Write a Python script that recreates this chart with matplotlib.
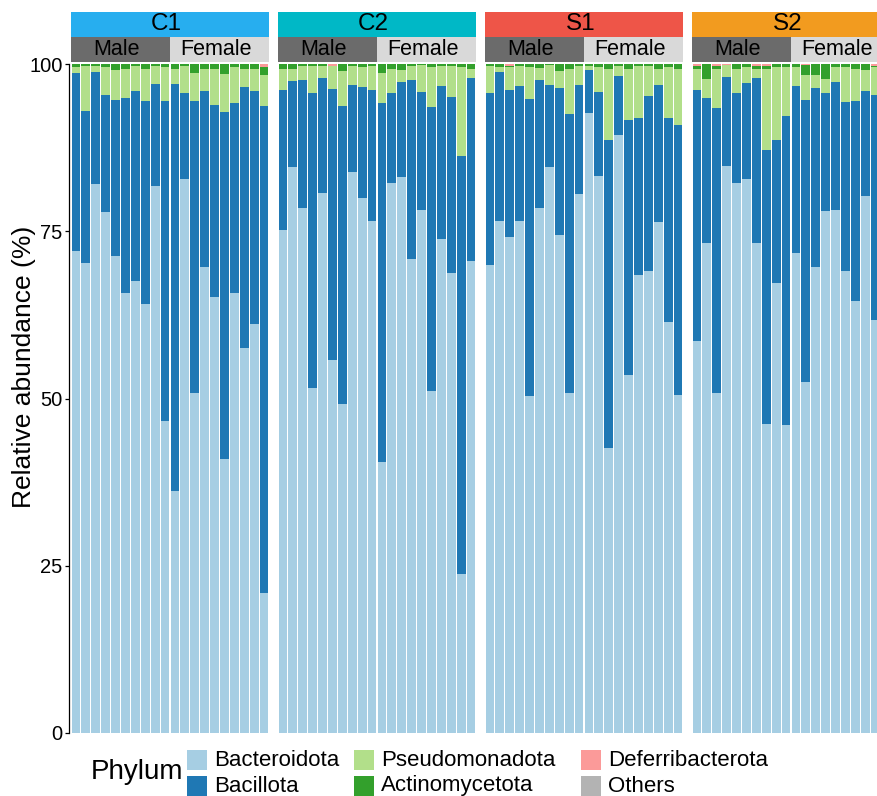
import matplotlib
matplotlib.use("Agg")
import matplotlib.pyplot as plt
from matplotlib.patches import Rectangle
import numpy as np

plt.rcParams['font.family'] = ['Liberation Sans', 'DejaVu Sans']

# ---------------- data ----------------
groups = ["C1", "C2", "S1", "S2"]
sexes = ["Male", "Female"]
phyla = ["Bacteroidota", "Bacillota", "Pseudomonadota",
         "Actinomycetota", "Deferribacterota", "Others"]
phylum_colors = ["#A6CEE3", "#1F78B4", "#B2DF8A", "#33A02C", "#FB9A99", "#B3B3B3"]
group_colors = ["#27AEEF", "#00B8C6", "#EE5548", "#F29B1F"]
sex_colors = ["#6B6B6B", "#D9D9D9"]
y_ticks = [0, 25, 50, 75, 100]
y_ticklabels = ["0", "25", "50", "75", "100"]

# C1 (10 male, 10 female samples)
c1_bacteroidota = [72.1, 70.3, 82.0, 77.9, 71.3, 65.8, 67.6, 64.2, 81.8, 46.6,
                   36.2, 82.8, 50.8, 69.7, 65.2, 41.0, 65.8, 57.5, 61.2, 21.0]
c1_bacillota = [26.5, 22.7, 16.8, 17.4, 23.3, 29.1, 28.3, 30.2, 15.2, 47.8,
                60.8, 12.9, 43.6, 26.2, 28.6, 51.8, 28.4, 39.0, 34.7, 72.7]
c1_pseudomonadota = [0.9, 6.7, 0.9, 4.2, 4.5, 4.4, 3.8, 4.9, 2.7, 5.1,
                     2.3, 4.0, 4.2, 3.3, 5.5, 5.7, 5.3, 2.7, 3.3, 4.7]
c1_actinomycetota = [0.5, 0.3, 0.3, 0.5, 0.9, 0.7, 0.3, 0.7, 0.3, 0.5,
                     0.7, 0.3, 1.4, 0.8, 0.7, 1.5, 0.5, 0.8, 0.8, 1.2]
c1_deferribacterota = [0, 0, 0, 0, 0, 0, 0, 0, 0, 0,
                       0, 0, 0, 0, 0, 0, 0, 0, 0, 0.4]
c1_others = [0] * 20

# C2
c2_bacteroidota = [75.2, 84.6, 78.5, 51.5, 80.7, 55.7, 49.2, 83.9, 79.9, 76.6,
                   40.5, 82.2, 83.1, 70.9, 78.2, 51.1, 73.9, 68.7, 23.7, 70.5]
c2_bacillota = [20.9, 12.8, 19.1, 44.2, 17.2, 40.6, 44.5, 13.0, 16.6, 19.5,
                53.7, 13.5, 14.2, 26.7, 17.6, 42.5, 22.8, 26.4, 62.5, 27.4]
c2_pseudomonadota = [3.1, 1.9, 2.1, 4.0, 1.8, 3.4, 5.2, 2.8, 3.0, 3.6,
                     4.4, 3.6, 1.8, 2.1, 4.1, 5.9, 3.0, 4.6, 13.3, 1.4]
c2_actinomycetota = [0.8, 0.7, 0.3, 0.3, 0.3, 0.0, 1.1, 0.3, 0.5, 0.3,
                     1.4, 0.7, 0.9, 0.3, 0.1, 0.5, 0.3, 0.3, 0.5, 0.7]
c2_deferribacterota = [0, 0, 0, 0, 0, 0.3, 0, 0, 0, 0,
                       0, 0, 0, 0, 0, 0, 0, 0, 0, 0]
c2_others = [0] * 20

# S1
s1_bacteroidota = [69.9, 76.6, 74.2, 76.6, 50.4, 78.5, 84.6, 74.5, 50.8, 80.6,
                   92.7, 83.3, 42.6, 89.4, 53.5, 68.4, 69.0, 76.4, 61.4, 50.5]
s1_bacillota = [25.8, 22.2, 21.9, 20.1, 44.4, 19.1, 12.3, 21.9, 41.7, 16.3,
                6.4, 12.5, 46.1, 8.8, 38.1, 23.5, 26.2, 20.5, 30.5, 40.4]
s1_pseudomonadota = [4.0, 0.7, 3.4, 3.0, 4.7, 1.8, 3.0, 2.6, 6.8, 2.8,
                     0.6, 3.7, 10.5, 1.5, 7.7, 7.8, 4.5, 2.3, 7.6, 8.4]
s1_actinomycetota = [0.3, 0.5, 0.2, 0.3, 0.5, 0.6, 0.1, 1.0, 0.7, 0.3,
                     0.3, 0.5, 0.8, 0.3, 0.7, 0.3, 0.3, 0.8, 0.5, 0.7]
s1_deferribacterota = [0, 0, 0.3, 0, 0, 0, 0, 0, 0, 0,
                       0, 0, 0, 0, 0, 0, 0, 0, 0, 0]
s1_others = [0] * 20

# S2 (19 visible samples, the panel runs past the right edge of the image)
s2_bacteroidota = [58.6, 73.2, 50.8, 84.8, 82.2, 82.8, 73.2, 46.2, 67.2, 46.0,
                   71.8, 52.5, 69.6, 78.0, 78.2, 69.1, 64.5, 80.3, 61.7]
s2_bacillota = [37.5, 21.7, 42.6, 13.2, 13.5, 14.3, 24.7, 40.9, 21.5, 46.2,
                24.9, 42.1, 26.8, 17.7, 19.1, 25.2, 29.9, 15.6, 33.6]
s2_pseudomonadota = [3.1, 2.8, 5.8, 1.8, 3.6, 2.4, 1.3, 12.1, 10.8, 7.3,
                     2.8, 3.8, 2.0, 2.0, 2.2, 5.2, 4.8, 3.2, 4.2]
s2_actinomycetota = [0.5, 2.3, 0.5, 0.0, 0.7, 0.5, 0.5, 0.5, 0.5, 0.5,
                     0.5, 1.4, 1.6, 2.3, 0.5, 0.5, 0.8, 0.9, 0.2]
s2_deferribacterota = [0.3, 0, 0.3, 0.2, 0, 0, 0.3, 0.3, 0, 0,
                       0, 0.2, 0, 0, 0, 0, 0, 0, 0.3]
s2_others = [0] * 19

panel_data = [
    [c1_bacteroidota, c1_bacillota, c1_pseudomonadota, c1_actinomycetota, c1_deferribacterota, c1_others],
    [c2_bacteroidota, c2_bacillota, c2_pseudomonadota, c2_actinomycetota, c2_deferribacterota, c2_others],
    [s1_bacteroidota, s1_bacillota, s1_pseudomonadota, s1_actinomycetota, s1_deferribacterota, s1_others],
    [s2_bacteroidota, s2_bacillota, s2_pseudomonadota, s2_actinomycetota, s2_deferribacterota, s2_others],
]
n_slots = 20

# ---------------- layout (pixels) ----------------
W, H = 878, 796
fig = plt.figure(figsize=(W / 100, H / 100), dpi=100)


def fx(x):
    return x / W


def fy(y):
    return 1 - y / H


panel_left0 = 71
panel_step = 207
panel_w = 198
panel_top, panel_bot = 64, 733
strip1_top, strip_mid, strip2_bot = 12, 37, 62
text_shift = -3.5 / panel_w  # strip labels sit slightly left of centre

for gi, (g, gcol) in enumerate(zip(groups, group_colors)):
    left = panel_left0 + gi * panel_step
    ax = fig.add_axes([fx(left), fy(panel_bot), panel_w / W, (panel_bot - panel_top) / H])
    series = panel_data[gi]
    x = np.arange(len(series[0]))
    bottom = np.zeros(len(x))
    for vals, col in zip(series, phylum_colors):
        v = np.array(vals, dtype=float)
        ax.bar(x, v, bottom=bottom, width=0.88, color=col, linewidth=0)
        bottom += v
    ax.set_xlim(-0.5, n_slots - 0.5)
    ax.set_ylim(0, 100)
    for s in ["top", "right", "bottom"]:
        ax.spines[s].set_visible(False)
    ax.set_xticks([])
    ax.patch.set_alpha(0)
    if gi == 0:
        ax.spines["left"].set_position(("outward", 1.5))
        ax.spines["left"].set_linewidth(0.9)
        ax.set_yticks(y_ticks)
        ax.set_yticklabels(y_ticklabels, fontsize=14.5)
        ax.tick_params(axis="y", length=3, width=0.9, pad=1.5, colors="black")
    else:
        ax.spines["left"].set_visible(False)
        ax.set_yticks([])

    # facet strips
    sax = fig.add_axes([fx(left), fy(strip2_bot), panel_w / W, (strip2_bot - strip1_top) / H])
    sax.set_xlim(0, 1)
    sax.set_ylim(0, 2)
    sax.axis("off")
    sax.add_patch(Rectangle((0, 1), 1, 1, color=gcol, linewidth=0))
    sax.text(0.5 + text_shift, 1.5, g, ha="center", va="center", fontsize=17.5)
    for si, (sx, scol) in enumerate(zip(sexes, sex_colors)):
        sax.add_patch(Rectangle((0.5 * si, 0), 0.5, 1, color=scol, linewidth=0))
        sax.text(0.25 + 0.5 * si + text_shift, 0.5, sx, ha="center", va="center", fontsize=15.5)

# y label
fig.text(fx(24), fy(367), "Relative abundance (%)", rotation=90,
         ha="center", va="center", fontsize=19)

# legend
fig.text(fx(91), fy(772), "Phylum", ha="left", va="center", fontsize=20)
key_x = [187, 354, 581]
key_y = [750, 776]
key_size = 20
for i, (name, col) in enumerate(zip(phyla, phylum_colors)):
    c, r = divmod(i, 2)
    kx, ky = key_x[c], key_y[r]
    fig.add_artist(Rectangle((fx(kx), fy(ky + key_size)), key_size / W, key_size / H,
                             transform=fig.transFigure, color=col, linewidth=0))
    fig.text(fx(kx + 27), fy(ky + key_size / 2), name, ha="left", va="center", fontsize=16)

fig.savefig("out.png", dpi=100)
